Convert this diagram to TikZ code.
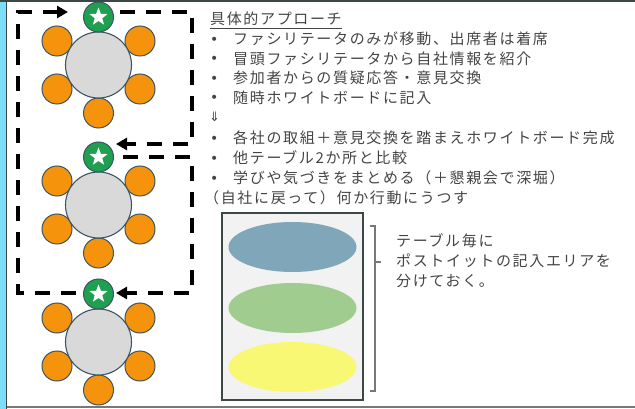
\documentclass[tikz,border=0pt]{standalone}
\usepackage{fontspec}
\setmainfont{Noto Sans CJK JP}[LetterSpace=11]
\newfontfamily\symf{DejaVu Sans}
\usetikzlibrary{shapes.geometric,arrows.meta}
\definecolor{txt}{RGB}{68,68,68}
\definecolor{stripc}{RGB}{126,222,250}
\definecolor{edgec}{RGB}{59,72,72}
\definecolor{tablec}{RGB}{217,217,217}
\definecolor{outl}{RGB}{60,85,98}
\definecolor{seatc}{RGB}{245,148,12}
\definecolor{facc}{RGB}{30,160,80}
\definecolor{ebl}{RGB}{128,166,185}
\definecolor{egr}{RGB}{160,205,143}
\definecolor{eye}{RGB}{248,248,116}
\definecolor{boardc}{RGB}{242,242,242}
\definecolor{bracc}{RGB}{120,120,120}
\tikzset{
  tbl/.style={circle,fill=tablec,draw=outl,line width=1.1pt,minimum size=66pt,inner sep=0pt},
  seat/.style={circle,fill=seatc,draw=outl,line width=1pt,minimum size=30pt,inner sep=0pt},
  fac/.style={circle,fill=facc,draw=outl,line width=1pt,minimum size=30pt,inner sep=0pt},
  starw/.style={star,star points=5,star point ratio=2.4,fill=white,minimum size=19pt,inner sep=0pt},
  route/.style={line width=3.6pt,black,dash pattern=on 15pt off 11pt},
  routearr/.style={route,-{Triangle[length=11pt,width=12pt]}},
  txtline/.style={anchor=west,inner sep=0pt,text=txt,font=\fontsize{15}{17}\selectfont},
  post/.style={ellipse,minimum width=128pt,minimum height=50pt,inner sep=0pt},
}
\newcommand{\bul}{\makebox[23pt][l]{\symf\fontsize{14}{14}\selectfont\raisebox{0.5pt}{•}}}
\begin{document}
\begin{tikzpicture}[x=1pt,y=-1pt]
\useasboundingbox (0,0) rectangle (635,409);
% frame
\fill[stripc] (0,0) rectangle (6,409);
\draw[edgec,line width=1.2pt] (6.6,0) -- (6.6,409);
\draw[edgec,line width=1.8pt] (0,0.9) -- (635,0.9);
\draw[bracc,line width=1.2pt] (7,407) -- (635,407);
% tables
\foreach \i/\cy in {1/65,2/205,3/342}{
  \node[seat] (s\i a) at (57,\cy-24) {};
  \node[seat] (s\i b) at (140,\cy-24) {};
  \node[seat] (s\i c) at (57,\cy+24) {};
  \node[seat] (s\i d) at (140,\cy+24) {};
  \node[seat] (s\i e) at (98.5,\cy+48) {};
  \node[tbl] (t\i) at (98.5,\cy) {};
  \node[fac] (f\i) at (98.5,\cy-48) {};
  \node[starw] (st\i) at (f\i) {};
}
% route coordinates
\coordinate (a1) at (120,12);
\coordinate (a2) at (192,12);
\coordinate (a3) at (192,144);
\coordinate (a4) at (116,144);
\coordinate (b1) at (123,157);
\coordinate (b2) at (192,157);
\coordinate (b3) at (192,293);
\coordinate (b4) at (116,293);
\coordinate (c1) at (76,293);
\coordinate (c2) at (18,293);
\coordinate (c3) at (18,12);
\coordinate (c4) at (68,12);
\draw[routearr] (a1) -- (a2) -- (a3) -- (a4);
\draw[routearr] (b1) -- (b2) -- (b3) -- (b4);
\draw[routearr] (c1) -- (c2) -- (c3) -- (c4);
% text
\node[txtline] (title) at (210,19) {具体的アプローチ};
\draw[txt,line width=0.8pt] ([yshift=-2pt]title.south west) -- ([yshift=-2pt]title.south east);
\node[txtline] (l1) at (210,39) {\bul ファシリテータのみが移動、出席者は着席};
\node[txtline] (l2) at (210,58.5) {\bul 冒頭ファシリテータから自社情報を紹介};
\node[txtline] (l3) at (210,78) {\bul 参加者からの質疑応答・意見交換};
\node[txtline] (l4) at (210,97.5) {\bul 随時ホワイトボードに記入};
\node[txtline,font=\symf\fontsize{13}{13}\selectfont] (dn) at (209,117) {⇓};
\node[txtline] (l5) at (210,138) {\bul 各社の取組＋意見交換を踏まえホワイトボード完成};
\node[txtline] (l6) at (210,158) {\bul 他テーブル2か所と比較};
\node[txtline] (l7) at (210,178) {\bul 学びや気づきをまとめる（＋懇親会で深堀）};
\node[txtline] (l8) at (204,197.5) {（自社に戻って）何か行動にうつす};
% board
\node[draw=edgec,fill=boardc,line width=1.8pt,minimum width=141pt,minimum height=187pt,inner sep=0pt] (board) at (292.5,306.5) {};
\node[post,fill=ebl] (e1) at (292.5,247) {};
\node[post,fill=egr] (e2) at (292.5,308) {};
\node[post,fill=eye] (e3) at (292.5,367) {};
% bracket
\coordinate (k1) at (370,226);
\coordinate (k2) at (375,226);
\coordinate (k3) at (375,391);
\coordinate (k4) at (370,391);
\coordinate (km) at (375,262);
\coordinate (kt) at (381,262);
\draw[bracc,line width=1.1pt] (k1) -- (k2) -- (k3) -- (k4);
\draw[bracc,line width=1.1pt] (km) -- (kt);
\node[txtline] (n1) at (396,241) {テーブル毎に};
\node[txtline] (n2) at (396,261) {ポストイットの記入エリアを};
\node[txtline] (n3) at (396,281) {分けておく。};
\end{tikzpicture}
\end{document}
